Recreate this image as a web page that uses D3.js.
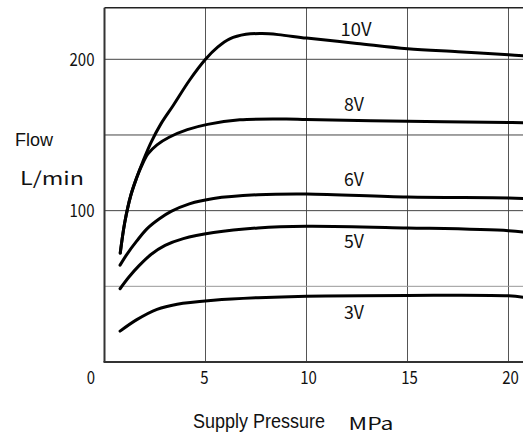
<!DOCTYPE html>
<html>
<head>
<meta charset="utf-8">
<script src="https://cdn.jsdelivr.net/npm/d3@7"></script>
<style>
  body { margin: 0; background: #fff; }
  svg { display: block; }
</style>
</head>
<body>
<svg id="chart" width="523" height="437"></svg>
<script>
// values: [pressure MPa, flow L/min]
var seriesNames = ["10V", "8V", "6V", "5V", "3V"];
var v10 = [[0.78,72],[1.0,92],[1.3,110],[1.6,122],[1.9,132.5],[2.3,145],[2.8,157.5],[3.4,169.5],[4.2,186],[5.0,200],[5.6,208],[6.2,213.5],[7.0,216.5],[7.8,217],[8.6,216.3],[10,214],[12.5,210.5],[15,207],[17.5,205],[20,203],[21,202]];
var v8 = [[0.78,72],[1.0,92],[1.3,110],[1.6,122],[1.85,130],[2.15,137.5],[2.6,143.5],[3.2,148.5],[4.1,153.5],[5.1,157],[6.7,160],[9,160.5],[10,160.2],[15,159],[20,158.3],[21,158]];
var v6 = [[0.77,64],[1.1,71],[1.6,80],[2.1,88],[2.7,94.5],[3.3,99.5],[4.2,104.5],[5.4,108],[7.6,110.5],[10,111],[15,109],[20,108.4],[21,107.8]];
var v5 = [[0.77,48.4],[1.2,56],[1.7,63.5],[2.3,71],[3.0,77],[3.9,81.5],[5.4,85.5],[7.6,88.6],[10,89.7],[15,88.6],[20,86.8],[21,85.5]];
var v3 = [[0.77,20.4],[1.6,28],[2.6,34.8],[3.6,38.2],[5.4,40.8],[7.6,42.5],[10,43.5],[15,44],[20,43.7],[21,42.3]];
var seriesValues = [v10, v8, v6, v5, v3];
var labelPos = [[12.45,215.4],[12.45,165.8],[12.45,116.3],[12.45,75.1],[12.45,28.4]]; // label baseline in data units
var xTicks = [0, 5, 10, 15, 20];
var xGrid = [5, 10, 15, 20];
var yGrid = [50, 100, 150, 200];
var yTickLabels = [100, 200];

var svg = d3.select("#chart");

var x = d3.scaleLinear().domain([0, 21]).range([104.5, 104.5 + 21 * 20.2]);
var y = d3.scaleLinear().domain([0, 234]).range([362, 362 - 234 * 1.5135]);

var numFont = "'Noto Sans CJK JP', 'DejaVu Sans', sans-serif";
var latFont = "'Liberation Sans', Arial, sans-serif";

// grid
svg.selectAll(".vgrid").data(xGrid).enter().append("line")
    .attr("x1", d => x(d)).attr("x2", d => x(d))
    .attr("y1", y(0)).attr("y2", y(234))
    .attr("stroke", "#555").attr("stroke-width", 1);

svg.selectAll(".hgrid").data(yGrid).enter().append("line")
    .attr("x1", x(0)).attr("x2", x(21))
    .attr("y1", d => y(d)).attr("y2", d => y(d))
    .attr("stroke", d => d == 50 ? "#999" : "#444").attr("stroke-width", 1);

// frame
svg.append("line").attr("x1", x(0)).attr("x2", x(21)).attr("y1", y(234)).attr("y2", y(234))
    .attr("stroke", "#222").attr("stroke-width", 1.5);
svg.append("line").attr("x1", x(0)).attr("x2", x(0)).attr("y1", y(234)).attr("y2", y(0))
    .attr("stroke", "#333").attr("stroke-width", 2);
svg.append("line").attr("x1", x(0) - 1).attr("x2", x(21)).attr("y1", y(0)).attr("y2", y(0))
    .attr("stroke", "#333").attr("stroke-width", 2);

// curves
var line = d3.line()
    .x(d => x(d[0]))
    .y(d => y(d[1]))
    .curve(d3.curveCatmullRom.alpha(0.5));

svg.selectAll(".curve").data(seriesValues).enter().append("path")
    .attr("d", line)
    .attr("fill", "none")
    .attr("stroke", "#000")
    .attr("stroke-width", 3)
    .attr("stroke-linecap", "round");

// series labels
svg.selectAll(".slabel").data(seriesNames).enter().append("text")
    .attr("x", (d, i) => x(labelPos[i][0]) - (d.length == 3 ? 0 : 2))
    .attr("y", (d, i) => y(labelPos[i][1]))
    .attr("text-anchor", "middle")
    .attr("font-family", numFont)
    .attr("font-size", 18)
    .attr("textLength", d => d.length == 3 ? 31 : 20)
    .attr("lengthAdjust", "spacingAndGlyphs")
    .attr("fill", "#111")
    .text(d => d);

// x tick labels
svg.selectAll(".xlabel").data(xTicks).enter().append("text")
    .attr("x", d => d == 0 ? x(0) - 13.5 : x(d) + (d >= 10 ? 2 : -1))
    .attr("y", 384)
    .attr("text-anchor", "middle")
    .attr("font-family", numFont)
    .attr("font-size", 18)
    .attr("textLength", d => String(d).length * 8.3)
    .attr("lengthAdjust", "spacingAndGlyphs")
    .attr("fill", "#111")
    .text(d => d);

// y tick labels
svg.selectAll(".ylabel").data(yTickLabels).enter().append("text")
    .attr("x", 94.5)
    .attr("y", d => y(d) + 6.5)
    .attr("text-anchor", "end")
    .attr("font-family", numFont)
    .attr("font-size", 18)
    .attr("textLength", 25)
    .attr("lengthAdjust", "spacingAndGlyphs")
    .attr("fill", "#111")
    .text(d => d);

// axis titles
svg.append("text").attr("x", 15).attr("y", 145.5)
    .attr("font-family", latFont).attr("font-size", 18)
    .attr("fill", "#111").text("Flow");
svg.append("text").attr("x", 20).attr("y", 185)
    .attr("font-family", numFont).attr("font-size", 18)
    .attr("textLength", 64).attr("lengthAdjust", "spacingAndGlyphs")
    .attr("fill", "#111").text("L/min");
svg.append("text").attr("x", 193).attr("y", 428.3)
    .attr("font-family", latFont).attr("font-size", 20)
    .attr("textLength", 132).attr("lengthAdjust", "spacingAndGlyphs")
    .attr("fill", "#111").text("Supply Pressure");
svg.append("text").attr("x", 348.5).attr("y", 430)
    .attr("font-family", numFont).attr("font-size", 17)
    .attr("textLength", 45).attr("lengthAdjust", "spacingAndGlyphs")
    .attr("fill", "#111").text("MPa");
</script>
</body>
</html>
